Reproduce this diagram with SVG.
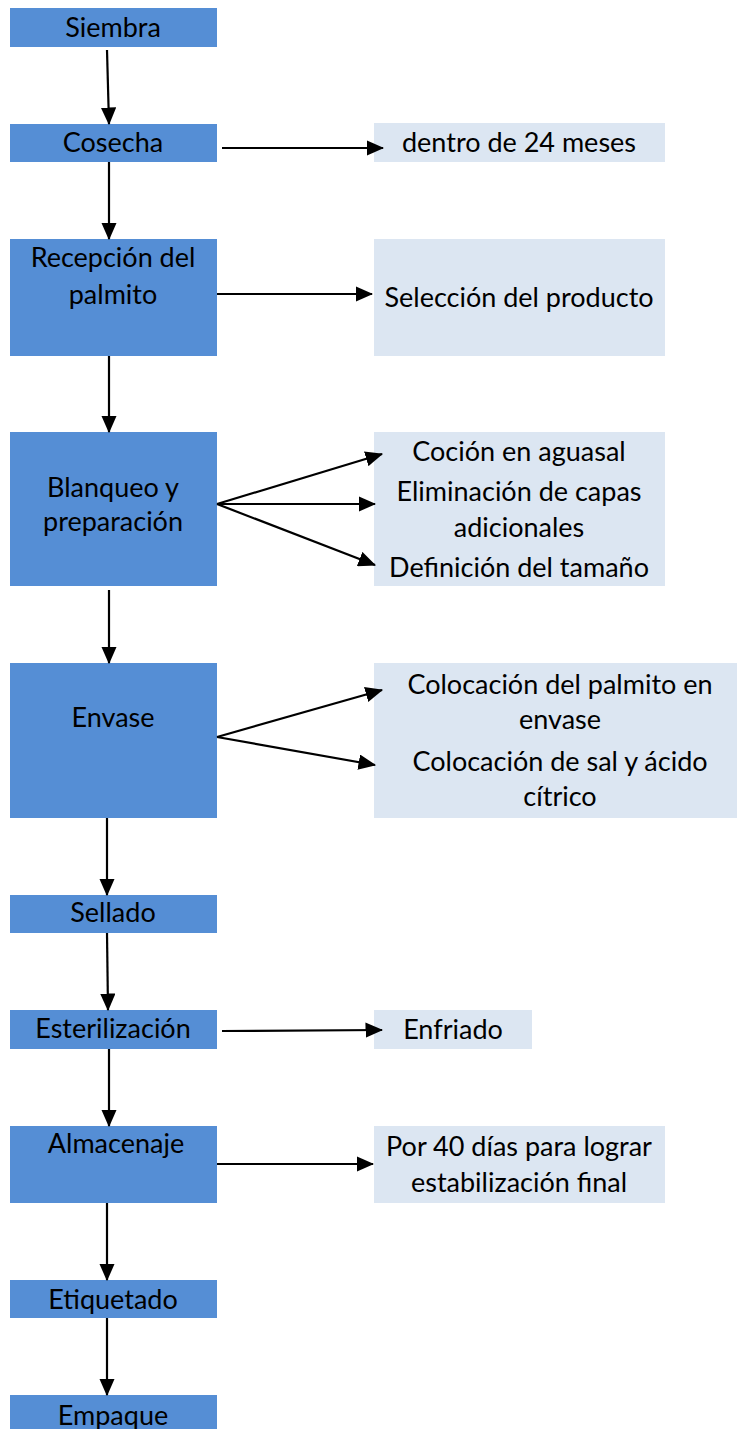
<svg xmlns="http://www.w3.org/2000/svg" width="737" height="1429" viewBox="0 0 737 1429">
<style>
.step{fill:#558ED5}
.note{fill:#DCE6F2}
text{font-family:Lato,"Open Sans","Liberation Sans",sans-serif;font-size:27px;fill:#000;text-anchor:middle}
.c{stroke:#000;stroke-width:2.2;fill:none;marker-end:url(#ah)}
</style>
<defs>
<marker id="ah" markerWidth="8" markerHeight="7" refX="7.5" refY="3.5" orient="auto" markerUnits="strokeWidth">
<path d="M0,0 L8,3.5 L0,7 Z" fill="#000"/>
</marker>
</defs>
<rect width="737" height="1429" fill="#fff"/>
<g id="siembra"><rect class="step" x="10" y="8" width="207" height="39"/><text x="113" y="37">Siembra</text></g>
<g id="cosecha"><rect class="step" x="10" y="124" width="207" height="38"/><text x="113" y="152">Cosecha</text></g>
<g id="recepcion"><rect class="step" x="10" y="239" width="207" height="117"/><text x="113" y="267">Recepción del</text><text x="113" y="304">palmito</text></g>
<g id="blanqueo"><rect class="step" x="10" y="432" width="207" height="154"/><text x="113" y="497">Blanqueo y</text><text x="113" y="531">preparación</text></g>
<g id="envase"><rect class="step" x="10" y="663" width="207" height="155"/><text x="113" y="727">Envase</text></g>
<g id="sellado"><rect class="step" x="10" y="895" width="207" height="38"/><text x="113" y="922">Sellado</text></g>
<g id="esterilizacion"><rect class="step" x="10" y="1010" width="207" height="39"/><text x="113" y="1038">Esterilización</text></g>
<g id="almacenaje"><rect class="step" x="10" y="1126" width="207" height="77"/><text x="116" y="1153">Almacenaje</text></g>
<g id="etiquetado"><rect class="step" x="10" y="1280" width="207" height="38"/><text x="113" y="1309">Etiquetado</text></g>
<g id="empaque"><rect class="step" x="10" y="1395" width="207" height="34"/><text x="113" y="1425">Empaque</text></g>

<g id="n-24meses"><rect class="note" x="374" y="123" width="291" height="39"/><text x="519" y="152">dentro de 24 meses</text></g>
<g id="n-seleccion"><rect class="note" x="374" y="239" width="291" height="117"/><text x="519" y="307">Selección del producto</text></g>
<g id="n-cocion"><rect class="note" x="374" y="432" width="291" height="39"/><text x="519" y="461">Coción en aguasal</text></g>
<g id="n-eliminacion"><rect class="note" x="374" y="471" width="291" height="76"/><text x="519" y="501">Eliminación de capas</text><text x="519" y="537">adicionales</text></g>
<g id="n-definicion"><rect class="note" x="374" y="547" width="291" height="39"/><text x="519" y="577">Definición del tamaño</text></g>
<g id="n-colocacion1"><rect class="note" x="374" y="663" width="363" height="78"/><text x="560" y="694">Colocación del palmito en</text><text x="560" y="729">envase</text></g>
<g id="n-colocacion2"><rect class="note" x="374" y="740" width="363" height="78"/><text x="560" y="771">Colocación de sal y ácido</text><text x="560" y="806">cítrico</text></g>
<g id="n-enfriado"><rect class="note" x="374" y="1010" width="158" height="39"/><text x="453" y="1039">Enfriado</text></g>
<g id="n-40dias"><rect class="note" x="374" y="1126" width="291" height="77"/><text x="519" y="1156">Por 40 días para lograr</text><text x="519" y="1192">estabilización final</text></g>

<g id="connectors">
<line class="c" x1="107" y1="50" x2="109" y2="124"/>
<line class="c" x1="109" y1="162" x2="109" y2="239"/>
<line class="c" x1="109" y1="356" x2="109" y2="432"/>
<line class="c" x1="109" y1="590" x2="109" y2="663"/>
<line class="c" x1="107" y1="818" x2="107" y2="895"/>
<line class="c" x1="107" y1="933" x2="108" y2="1010"/>
<line class="c" x1="109" y1="1049" x2="109" y2="1126"/>
<line class="c" x1="107" y1="1203" x2="107" y2="1280"/>
<line class="c" x1="107" y1="1318" x2="107" y2="1395"/>
<line class="c" x1="222" y1="148" x2="383" y2="148"/>
<line class="c" x1="217" y1="294" x2="372" y2="294"/>
<line class="c" x1="217" y1="504" x2="382" y2="454"/>
<line class="c" x1="217" y1="504" x2="375" y2="504"/>
<line class="c" x1="217" y1="504" x2="375" y2="565"/>
<line class="c" x1="217" y1="737" x2="382" y2="690"/>
<line class="c" x1="217" y1="737" x2="375" y2="765"/>
<line class="c" x1="222" y1="1031" x2="382" y2="1030"/>
<line class="c" x1="217" y1="1164" x2="373" y2="1164"/>
</g>
</svg>
